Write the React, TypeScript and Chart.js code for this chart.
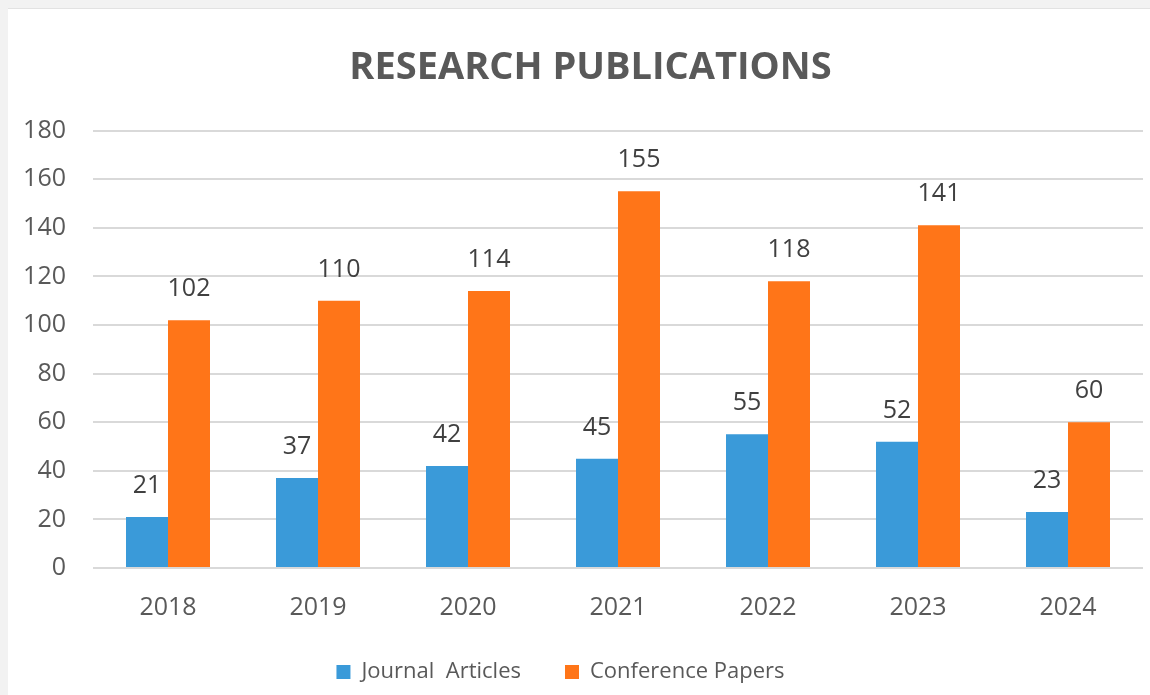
import React, { useEffect, useRef } from "react";
import { Chart, registerables } from "chart.js";

Chart.register(...registerables);

const years = ["2018", "2019", "2020", "2021", "2022", "2023", "2024"];
const journalArticles = [21, 37, 42, 45, 55, 52, 23];
const conferencePapers = [102, 110, 114, 155, 118, 141, 60];
const seriesNames = ["Journal  Articles", "Conference Papers"];
const chartTitle = "RESEARCH PUBLICATIONS";
const yMin = 0;
const yMax = 180;
const yStep = 20;

const FONT = '"Open Sans", "DejaVu Sans", sans-serif';

const valueLabels = {
  id: "valueLabels",
  afterDatasetsDraw(chart: any) {
    const ctx = chart.ctx;
    ctx.save();
    ctx.font = `25px ${FONT}`;
    ctx.fillStyle = "#404040";
    ctx.textAlign = "center";
    ctx.textBaseline = "alphabetic";
    chart.data.datasets.forEach((ds: any, i: number) => {
      chart.getDatasetMeta(i).data.forEach((bar: any, j: number) => {
        ctx.fillText(String(ds.data[j]), bar.x, bar.y - 24);
      });
    });
    ctx.restore();
  },
};

const shiftBoxes = {
  id: "shiftBoxes",
  afterLayout(chart: any) {
    const t = chart.titleBlock;
    if (t) {
      t.left += 15;
      t.right += 15;
    }
    const l = chart.legend;
    if (l) {
      l.left -= 15;
      l.right -= 15;
      l.top -= 2;
      l.bottom -= 2;
    }
  },
};

export default function App() {
  const ref = useRef<HTMLCanvasElement | null>(null);

  useEffect(() => {
    if (!ref.current) return;
    const chart = new Chart(ref.current, {
      type: "bar",
      data: {
        labels: years,
        datasets: [
          {
            label: seriesNames[0],
            data: journalArticles,
            backgroundColor: "#3a9ad9",
            barPercentage: 1,
            categoryPercentage: 0.56,
          },
          {
            label: seriesNames[1],
            data: conferencePapers,
            backgroundColor: "#ff7518",
            barPercentage: 1,
            categoryPercentage: 0.56,
          },
        ],
      },
      options: {
        responsive: false,
        animation: false,
        layout: { padding: { left: 0, right: 7, top: 0, bottom: 0 } },
        plugins: {
          title: {
            display: true,
            text: chartTitle,
            color: "#595959",
            font: { family: FONT, size: 38, weight: "bold", lineHeight: 1.2 },
            padding: { top: 36, bottom: 40 },
          },
          legend: {
            position: "bottom",
            labels: {
              boxWidth: 14,
              boxHeight: 14,
              padding: 44,
              color: "#595959",
              font: { family: FONT, size: 22 },
            },
          },
          tooltip: { enabled: false },
        },
        scales: {
          x: {
            grid: { display: false },
            border: { display: false },
            ticks: { color: "#595959", font: { family: FONT, size: 25 }, padding: 17 },
            afterFit: (s: any) => {
              s.height = 51;
            },
          },
          y: {
            min: yMin,
            max: yMax,
            ticks: { stepSize: yStep, color: "#595959", font: { family: FONT, size: 25 }, padding: 27 },
            grid: { color: "#d9d9d9", lineWidth: 2, drawTicks: false },
            border: { display: false },
            afterFit: (s: any) => {
              s.width = 85;
            },
          },
        },
      },
      plugins: [valueLabels, shiftBoxes],
    } as any);
    return () => chart.destroy();
  }, []);

  return (
    <div style={{ position: "fixed", inset: 0, background: "#f2f2f2" }}>
      <div
        style={{
          position: "absolute",
          left: 8,
          top: 8,
          width: 1142,
          height: 687,
          background: "#ffffff",
          borderTop: "1px solid #e2e2e2",
          boxSizing: "border-box",
        }}
      >
        <canvas ref={ref} width={1142} height={686} style={{ display: "block" }} />
      </div>
    </div>
  );
}
